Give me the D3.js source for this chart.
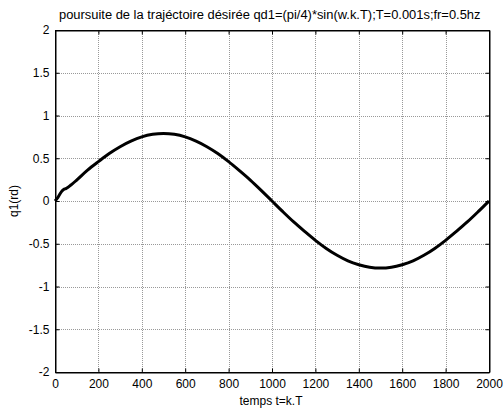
<!DOCTYPE html>
<html><head><meta charset="utf-8">
<script src="https://cdn.jsdelivr.net/npm/d3@7"></script>
<style>body{margin:0;background:#fff}svg{display:block}text{font-family:"Liberation Sans",Arial,sans-serif;fill:#000}</style>
</head><body><svg id="c" width="503" height="409"></svg>
<script>
const title = "poursuite de la trajéctoire désirée qd1=(pi/4)*sin(w.k.T);T=0.001s;fr=0.5hz";
const xLabel = "temps t=k.T";
const yLabel = "q1(rd)";
const xTicks = [0,200,400,600,800,1000,1200,1400,1600,1800,2000];
const yTicks = [-2,-1.5,-1,-0.5,0,0.5,1,1.5,2];
const tValues = [0,10,20,30,40,50,60,70,80,100,150,200,250,300,350,400,450,500,550,600,650,700,750,800,850,900,950,1000,1050,1100,1150,1200,1250,1300,1350,1400,1450,1500,1550,1600,1650,1700,1750,1800,1850,1900,1950,2000];
const qValues = [0,0.03,0.07,0.11,0.135,0.145,0.16,0.18,0.20,0.245,0.36,0.46,0.555,0.635,0.70,0.75,0.78,0.79,0.78,0.75,0.70,0.635,0.555,0.46,0.355,0.245,0.125,0.0,-0.125,-0.245,-0.355,-0.46,-0.555,-0.635,-0.70,-0.745,-0.775,-0.785,-0.775,-0.745,-0.70,-0.635,-0.555,-0.46,-0.355,-0.245,-0.125,0.0];

const L=55,R=489,T=30,B=372;
const svg=d3.select("#c");
const x=d3.scaleLinear().domain([0,2000]).range([L,R]);
const y=d3.scaleLinear().domain([-2,2]).range([B,T]);
const fmt=d=>String(d);

// grid
const g=svg.append("g");
g.selectAll(".gx").data(xTicks.slice(1,-1)).join("line").attr("x1",d=>Math.round(x(d))+0.5).attr("x2",d=>Math.round(x(d))+0.5).attr("y1",T).attr("y2",B)
 .attr("stroke","#999").attr("stroke-width",1).attr("stroke-dasharray","1,1");
g.selectAll(".gy").data(yTicks.slice(1,-1)).join("line").attr("y1",d=>Math.round(y(d))+0.5).attr("y2",d=>Math.round(y(d))+0.5).attr("x1",L).attr("x2",R)
 .attr("stroke","#999").attr("stroke-width",1).attr("stroke-dasharray","1,1");

// box
svg.append("rect").attr("x",L+0.5).attr("y",T+0.5).attr("width",R-L).attr("height",B-T).attr("fill","none").attr("stroke","#000").attr("stroke-width",1);

// axes
const xa=svg.append("g").attr("transform",`translate(0,${B+0.5})`).call(d3.axisBottom(x).tickValues(xTicks).tickFormat(fmt).tickSize(-4).tickPadding(7));
const xa2=svg.append("g").attr("transform",`translate(0,${T+0.5})`).call(d3.axisTop(x).tickValues(xTicks).tickFormat("").tickSize(-4));
const ya=svg.append("g").attr("transform",`translate(${L+0.5},0)`).call(d3.axisLeft(y).tickValues(yTicks).tickFormat(fmt).tickSize(-4).tickPadding(6));
const ya2=svg.append("g").attr("transform",`translate(${R+0.5},0)`).call(d3.axisRight(y).tickValues(yTicks).tickFormat("").tickSize(-4));
[xa,xa2,ya,ya2].forEach(a=>{a.select(".domain").attr("stroke","#000");a.selectAll("text").attr("font-size",12).attr("font-family","Liberation Sans, Arial, sans-serif");});

// line
const data=tValues.map((t,i)=>({t,q:qValues[i]}));
svg.append("path").datum(data).attr("fill","none").attr("stroke","#000").attr("stroke-width",3).attr("stroke-linejoin","round")
 .attr("d",d3.line().x(d=>x(d.t)).y(d=>y(d.q)).curve(d3.curveMonotoneX));

const tt=svg.append("text").attr("x",59).attr("y",19).attr("font-size",12).text(title);
const w=tt.node().getComputedTextLength();
tt.attr("font-size",12*422/w);
svg.append("text").attr("x",271).attr("y",405).attr("text-anchor","middle").attr("font-size",12).text(xLabel);
svg.append("text").attr("transform","translate(18,201) rotate(-90)").attr("text-anchor","middle").attr("font-size",12).text(yLabel);
</script></body></html>
